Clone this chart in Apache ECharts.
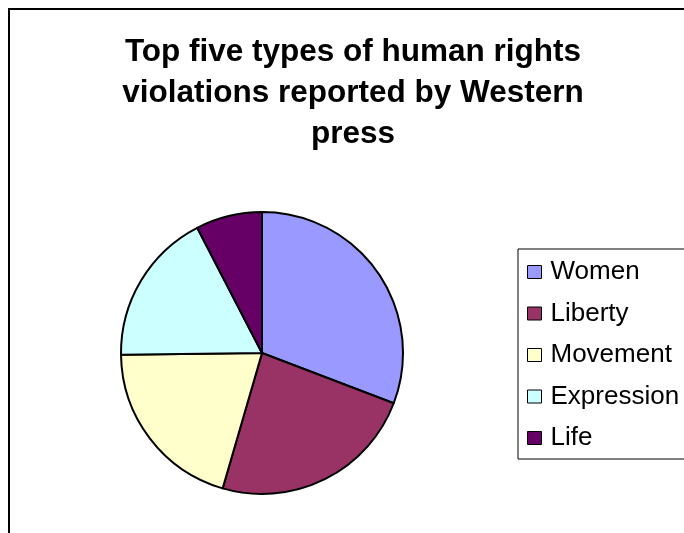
<!DOCTYPE html>
<html>
<head>
<meta charset="utf-8">
<script src="https://cdn.jsdelivr.net/npm/echarts@6/dist/echarts.min.js"></script>
<style>
  html, body { margin: 0; padding: 0; background: #fff; }
  #chart { width: 684px; height: 533px; }
</style>
</head>
<body>
<div id="chart"></div>
<script>
// violation types, clockwise from 12 o'clock
const categories = ['Women', 'Liberty', 'Movement', 'Expression', 'Life'];
// shares (%)
const shares = [30.8, 23.7, 20.3, 17.6, 7.6];
const colors = ['#9999FF', '#993366', '#FFFFCC', '#CCFFFF', '#660066'];

const myChart = echarts.init(document.getElementById('chart'));

myChart.setOption({
  animation: false,
  title: {
    text: 'Top five types of human rights\nviolations reported by Western\npress',
    left: 348,
    top: 27,
    textAlign: 'center',
    textStyle: {
      fontFamily: 'Liberation Sans, Arial, sans-serif',
      fontSize: 31.5,
      fontWeight: 'bold',
      color: '#000',
      lineHeight: 41
    }
  },
  graphic: [
    {
      type: 'rect',
      shape: { x: 9, y: 9, width: 700, height: 600 },
      style: { fill: 'none', stroke: '#000', lineWidth: 2 }
    }
  ],
  legend: {
    orient: 'vertical',
    left: 518,
    top: 249,
    padding: [10, 10, 8, 9],
    itemGap: 15.5,
    itemWidth: 14,
    itemHeight: 13,
    icon: 'rect',
    borderColor: '#000',
    borderWidth: 1,
    data: categories,
    itemStyle: { borderColor: '#000', borderWidth: 1 },
    textStyle: {
      fontFamily: 'Liberation Sans, Arial, sans-serif',
      fontSize: 26,
      color: '#000',
      padding: [0, 0, 0, 4],
      lineHeight: 26
    }
  },
  series: [
    {
      type: 'pie',
      center: [262, 353],
      radius: 141,
      startAngle: 90,
      clockwise: true,
      label: { show: false },
      labelLine: { show: false },
      itemStyle: { borderColor: '#000', borderWidth: 2 },
      emphasis: { disabled: true },
      data: categories.map((name, i) => ({
        name: name,
        value: shares[i],
        itemStyle: { color: colors[i] }
      }))
    }
  ]
});
</script>
</body>
</html>
